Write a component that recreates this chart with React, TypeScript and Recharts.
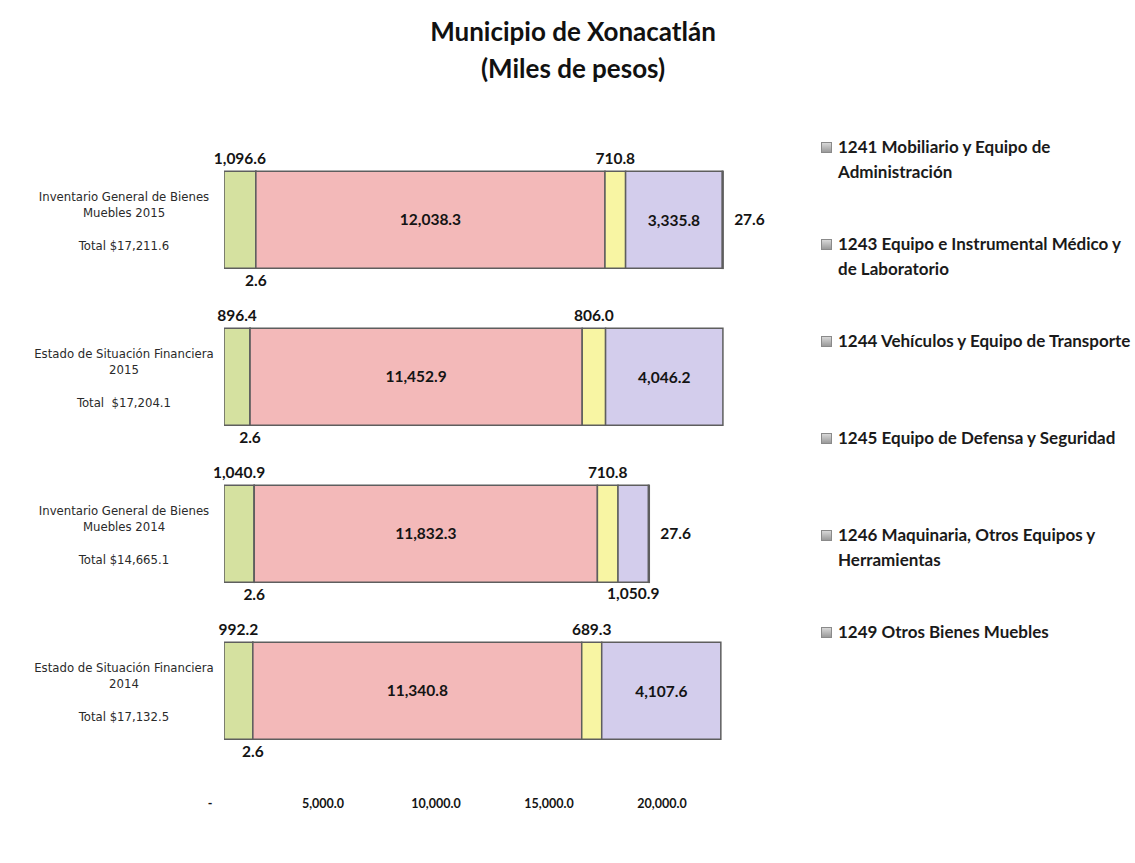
import React from 'react';
import { BarChart, Bar, XAxis, YAxis, LabelList } from 'recharts';

// categories (top to bottom) and the totals printed under each one
const categories = [
  'Inventario General de Bienes\nMuebles 2015',
  'Estado de Situación Financiera\n2015',
  'Inventario General de Bienes\nMuebles 2014',
  'Estado de Situación Financiera\n2014',
];
const totalLabels = ['Total $17,211.6', 'Total  $17,204.1', 'Total $14,665.1', 'Total $17,132.5'];

// series values (miles de pesos)
const mobiliario = [1096.6, 896.4, 1040.9, 992.2];
const medico = [2.6, 2.6, 2.6, 2.6];
const vehiculos = [12038.3, 11452.9, 11832.3, 11340.8];
const defensa = [710.8, 806.0, 710.8, 689.3];
const maquinaria = [3335.8, 4046.2, 1050.9, 4107.6];
const otros = [27.6, 0, 27.6, 0];

const xTicks = [0, 5000, 10000, 15000, 20000];

const series = [
  { key: 's1241', name: '1241 Mobiliario y Equipo de\nAdministración', values: mobiliario, color: '#d5e1a0', label: 'top' },
  { key: 's1243', name: '1243 Equipo e Instrumental Médico y\nde Laboratorio', values: medico, color: '#b9cde5', label: 'bottom' },
  { key: 's1244', name: '1244 Vehículos y Equipo de Transporte', values: vehiculos, color: '#f3b9b9', label: 'center' },
  { key: 's1245', name: '1245 Equipo de Defensa y Seguridad', values: defensa, color: '#f8f5a3', label: 'top' },
  { key: 's1246', name: '1246 Maquinaria, Otros Equipos y\nHerramientas', values: maquinaria, color: '#d3cdec', label: 'auto' },
  { key: 's1249', name: '1249 Otros Bienes Muebles', values: otros, color: '#c6d9f1', label: 'right' },
];

const data = categories.map((name, i) => {
  const row: Record<string, any> = { name, total: totalLabels[i] };
  series.forEach((s) => {
    row[s.key] = s.values[i];
  });
  return row;
});

const fmt = (v: any) => {
  const n = Number(v);
  if (!n) return '';
  return n.toLocaleString('en-US', { minimumFractionDigits: 1, maximumFractionDigits: 1 });
};

const fontMain = "Lato, 'Open Sans', sans-serif";
const fontNarrow = "'Liberation Sans Narrow', 'Arial Narrow', 'DejaVu Sans Condensed', 'Liberation Sans', sans-serif";

const labelStyle = { fontFamily: fontMain, fontWeight: 700, fontSize: 15.5, fill: '#141414' };

const CategoryTick = (props: any) => {
  const { x, y, payload, index } = props;
  const lines = String(payload.value).split('\n');
  const cx = x - 86;
  return (
    <g fontFamily={fontNarrow} fontSize={13} fill="#2a2a2a">
      {lines.map((l, i) => (
        <text key={i} x={cx} y={y - 24 + i * 16} textAnchor="middle" dominantBaseline="central">
          {l}
        </text>
      ))}
      <text x={cx} y={y + 25} textAnchor="middle" dominantBaseline="central" style={{ whiteSpace: 'pre' }}>
        {data[index] ? data[index].total : ''}
      </text>
    </g>
  );
};

// purple labels sit inside the bar unless the bar is too narrow, then below it
const MaquinariaLabel = (props: any) => {
  const vb = props.viewBox || props;
  const { x, y, width, height } = vb;
  const text = fmt(props.value);
  if (!text) return null;
  if (width < 60) {
    return (
      <text x={x + width / 2} y={y + height + 11} textAnchor="middle" dominantBaseline="central" {...labelStyle}>
        {text}
      </text>
    );
  }
  return (
    <text x={x + width / 2} y={y + height / 2} textAnchor="middle" dominantBaseline="central" {...labelStyle}>
      {text}
    </text>
  );
};

const Legend = () => (
  <div style={{ position: 'absolute', left: 821, top: 134, fontFamily: fontMain, fontWeight: 700, fontSize: 17, color: '#1a1a1a' }}>
    {series.map((s) => (
      <div key={s.key} style={{ height: 97, display: 'flex', alignItems: 'flex-start' }}>
        <div
          style={{
            width: 9,
            height: 9,
            marginTop: 8,
            marginRight: 6,
            background: 'linear-gradient(#d8d8d8, #9a9a9a)',
            border: '1px solid #8a8a8a',
            flex: 'none',
          }}
        />
        <div style={{ lineHeight: '25px', whiteSpace: 'pre' }}>{s.name}</div>
      </div>
    ))}
  </div>
);

const App: React.FC = () => {
  return (
    <div style={{ position: 'absolute', left: 0, top: 0, width: 1135, height: 863, background: '#fff', overflow: 'hidden' }}>
      <div
        style={{
          position: 'absolute',
          left: 373,
          top: 13,
          width: 400,
          textAlign: 'center',
          fontFamily: fontMain,
          fontWeight: 700,
          fontSize: 26,
          lineHeight: '37px',
          color: '#111',
        }}
      >
        Municipio de Xonacatlán
        <br />
        (Miles de pesos)
      </div>
      <BarChart
        width={1135}
        height={863}
        layout="vertical"
        data={data}
        margin={{ top: 141.5, right: 331, bottom: 63.5, left: 0 }}
        barCategoryGap="19%"
      >
        <XAxis xAxisId="bars" type="number" domain={[0, 20000]} allowDataOverflow padding={{ left: 14 }} hide />
        <XAxis
          xAxisId="labels"
          type="number"
          domain={[0, 20000]}
          allowDataOverflow
          ticks={xTicks}
          padding={{ right: 142 }}
          axisLine={false}
          tickLine={false}
          tickSize={0}
          tickMargin={0}
          tickFormatter={(v: number) => (v === 0 ? '-' : fmt(v))}
          tick={{ fontFamily: fontMain, fontWeight: 700, fontSize: 12.5, fill: '#141414' }}
        />
        <YAxis
          type="category"
          dataKey="name"
          width={210}
          axisLine={false}
          tickLine={false}
          tickSize={0}
          tickMargin={0}
          interval={0}
          tick={<CategoryTick />}
        />
        {series.map((s) => (
          <Bar
            key={s.key}
            xAxisId="bars"
            dataKey={s.key}
            name={s.name}
            stackId="a"
            fill={s.color}
            stroke="#5e5e5e"
            strokeWidth={1.5}
            isAnimationActive={false}
          >
            {s.label === 'auto' ? (
              <LabelList dataKey={s.key} content={<MaquinariaLabel />} />
            ) : (
              <LabelList
                dataKey={s.key}
                position={s.label as any}
                offset={s.label === 'right' ? 11 : 7}
                formatter={fmt}
                style={labelStyle}
              />
            )}
          </Bar>
        ))}
      </BarChart>
      <Legend />
    </div>
  );
};

export default App;
